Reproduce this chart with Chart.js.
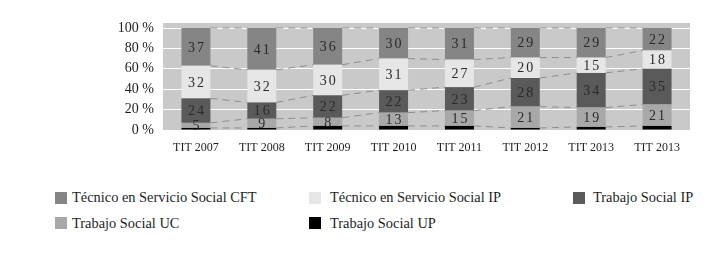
<!DOCTYPE html>
<html>
<head>
<meta charset="utf-8">
<script src="https://cdn.jsdelivr.net/npm/chart.js@4.4.1/dist/chart.umd.min.js"></script>
<style>
  body { margin: 0; background: #fff; width: 726px; height: 255px; overflow: hidden; font-family: "Liberation Serif", "Times New Roman", serif; }
  #wrap { position: absolute; left: 0; top: 0; width: 726px; height: 160px; }
  .lbox { position: absolute; width: 12px; height: 12px; }
  .ltxt { position: absolute; font-size: 14.4px; line-height: 17px; color: #1e1e1e; white-space: nowrap; }
</style>
</head>
<body>
<div id="wrap"><canvas id="chart" width="726" height="160"></canvas></div>
<div id="legend"></div>
<script>
const labels = ['TIT 2007', 'TIT 2008', 'TIT 2009', 'TIT 2010', 'TIT 2011', 'TIT 2012', 'TIT 2013', 'TIT 2013'];
const socialUP = [2, 2, 4, 4, 4, 2, 3, 4];
const socialUC = [5, 9, 8, 13, 15, 21, 19, 21];
const socialIP = [24, 16, 22, 22, 23, 28, 34, 35];
const tecnicoIP = [32, 32, 30, 31, 27, 20, 15, 18];
const tecnicoCFT = [37, 41, 36, 30, 31, 29, 29, 22];
const yTicks = [0, 20, 40, 60, 80, 100];

const serif = '"Liberation Serif", "Times New Roman", serif';

// legend laid out in the same three columns as the original
const legendItems = [
  { text: 'Técnico en Servicio Social CFT', color: '#858585', box: 55, txt: 72, row: 0 },
  { text: 'Técnico en Servicio Social IP', color: '#e6e6e6', box: 309, txt: 330, row: 0 },
  { text: 'Trabajo Social IP', color: '#5a5a5a', box: 573, txt: 593, row: 0 },
  { text: 'Trabajo Social UC', color: '#a8a8a8', box: 55, txt: 72, row: 1 },
  { text: 'Trabajo Social UP', color: '#000000', box: 309, txt: 330, row: 1 }
];
const legend = document.getElementById('legend');
legendItems.forEach(it => {
  const cy = it.row === 0 ? 197.5 : 223;
  const b = document.createElement('div');
  b.className = 'lbox';
  b.style.cssText = `left:${it.box}px;top:${cy - 6}px;background:${it.color}`;
  const t = document.createElement('div');
  t.className = 'ltxt';
  t.style.cssText = `left:${it.txt}px;top:${cy - 8.5}px`;
  t.textContent = it.text;
  legend.appendChild(b);
  legend.appendChild(t);
});

// grey plot background
const backdrop = {
  id: 'backdrop',
  beforeDraw(chart) {
    const { ctx, chartArea: a } = chart;
    ctx.save();
    ctx.fillStyle = '#c9c9c9';
    ctx.fillRect(a.left, a.top - 5, a.right - a.left, a.bottom - a.top + 6);
    ctx.restore();
  }
};

// dashed lines joining the stacks, and value labels
const connectors = {
  id: 'connectors',
  afterDatasetsDraw(chart) {
    const { ctx } = chart;
    const n = labels.length;
    ctx.save();
    ctx.strokeStyle = '#8e8e8e';
    ctx.lineWidth = 1;
    ctx.setLineDash([7, 5]);
    chart.data.datasets.forEach((ds, di) => {
      const meta = chart.getDatasetMeta(di);
      for (let i = 0; i < n - 1; i++) {
        const b0 = meta.data[i], b1 = meta.data[i + 1];
        ctx.beginPath();
        ctx.moveTo(b0.x + b0.width / 2, b0.y);
        ctx.lineTo(b1.x - b1.width / 2, b1.y);
        ctx.stroke();
      }
    });
    ctx.restore();

    ctx.save();
    ctx.font = '14px ' + serif;
    ctx.fillStyle = '#2a2a2a';
    ctx.textAlign = 'center';
    ctx.textBaseline = 'middle';
    ctx.letterSpacing = '2px';
    chart.data.datasets.forEach((ds, di) => {
      if (di === 0) return;
      const meta = chart.getDatasetMeta(di);
      meta.data.forEach((bar, i) => {
        ctx.fillText(String(ds.data[i]), bar.x + 1, (bar.y + bar.base) / 2 + 1);
      });
    });
    ctx.restore();
  }
};

new Chart(document.getElementById('chart'), {
  type: 'bar',
  data: {
    labels: labels,
    datasets: [
      { label: 'Trabajo Social UP', data: socialUP, backgroundColor: '#000000' },
      { label: 'Trabajo Social UC', data: socialUC, backgroundColor: '#a8a8a8' },
      { label: 'Trabajo Social IP', data: socialIP, backgroundColor: '#5a5a5a' },
      { label: 'Técnico en Servicio Social IP', data: tecnicoIP, backgroundColor: '#e6e6e6' },
      { label: 'Técnico en Servicio Social CFT', data: tecnicoCFT, backgroundColor: '#858585' }
    ]
  },
  options: {
    responsive: false,
    animation: false,
    layout: { padding: { left: 0, right: 36, top: 28, bottom: 0 } },
    datasets: { bar: { barPercentage: 0.44, categoryPercentage: 1 } },
    plugins: { legend: { display: false }, tooltip: { enabled: false } },
    scales: {
      x: {
        stacked: true,
        afterFit(scale) { scale.height = 30; },
        grid: { display: false },
        border: { display: false },
        ticks: { color: '#1e1e1e', font: { family: serif, size: 12 }, padding: 3, autoSkip: false, maxRotation: 0 }
      },
      y: {
        stacked: true,
        min: 0,
        max: 100,
        afterFit(scale) { scale.width = 163; },
        afterBuildTicks(scale) { scale.ticks = yTicks.map(v => ({ value: v })); },
        grid: { color: '#ffffff', lineWidth: 1, drawTicks: false },
        border: { display: false },
        ticks: {
          color: '#1e1e1e',
          padding: 9,
          autoSkip: false,
          font: { family: serif, size: 14 },
          callback: v => v + ' %'
        }
      }
    }
  },
  plugins: [backdrop, connectors]
});
</script>
</body>
</html>
